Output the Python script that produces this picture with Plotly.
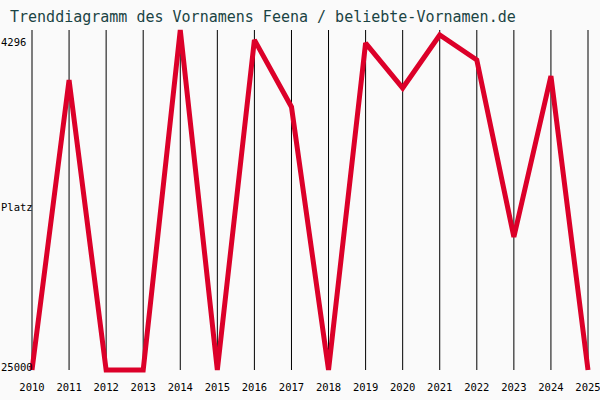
import plotly.graph_objects as go

years = list(range(2010, 2026))
ranks = [25000, 7340, 25000, 25000, 4296, 25000, 4900, 8980, 25000, 5090,
         7830, 4600, 6120, 16900, 7100, 25000]
y_labels = ["4296", "Platz", "25000"]
title = "Trenddiagramm des Vornamens Feena / beliebte-Vornamen.de"

best, worst = 4296, 25000
# pixel geometry helpers
plot_top, plot_bot = 30, 370
px_per_rank = (plot_bot - plot_top) / (worst - best)
pad_px = 3
pad_rank = pad_px / px_per_rank
x0, x1 = years[0], years[-1]
px_per_year = (588 - 32) / (x1 - x0)
pad_year = pad_px / px_per_year

fig = go.Figure()
fig.add_trace(go.Scatter(x=years, y=ranks, mode="lines",
                         line=dict(color="#dc0029", width=5),
                         hoverinfo="skip"))

for yr in years:
    fig.add_shape(type="line", x0=yr, x1=yr, y0=best, y1=worst,
                  xref="x", yref="y", line=dict(color="black", width=1),
                  layer="below")

# y labels positions (in data units)
label_pos = [best + 12 / px_per_rank, (best + worst) / 2 + 7 / px_per_rank, worst - 3 / px_per_rank]
for txt, pos in zip(y_labels, label_pos):
    fig.add_annotation(text=txt, x=0, xref="paper", y=pos, yref="y",
                       xanchor="left", yanchor="middle", showarrow=False,
                       xshift=-30,
                       font=dict(family="DejaVu Sans Mono", size=10.5, color="black"))

fig.update_layout(
    width=600, height=400,
    margin=dict(l=29, r=9, t=27, b=27, autoexpand=False),
    paper_bgcolor="#fafafa", plot_bgcolor="#fafafa",
    showlegend=False,
    title=dict(text=title, x=10 / 600, xanchor="left", y=1 - 17 / 400, yanchor="middle",
               font=dict(family="DejaVu Sans Mono", size=15, color="#1a4444")),
    xaxis=dict(range=[x0 - pad_year, x1 + pad_year], tickvals=years,
               ticktext=[str(y) for y in years], showgrid=False, zeroline=False,
               showline=False, ticks="", ticklabelstandoff=6, automargin=False,
               ticklabeloverflow="allow",
               tickfont=dict(family="DejaVu Sans Mono", size=10.5, color="black")),
    yaxis=dict(range=[worst + pad_rank, best - pad_rank], showgrid=False, automargin=False,
               zeroline=False, showline=False, showticklabels=False, ticks=""),
)

fig.write_html("out.html")
